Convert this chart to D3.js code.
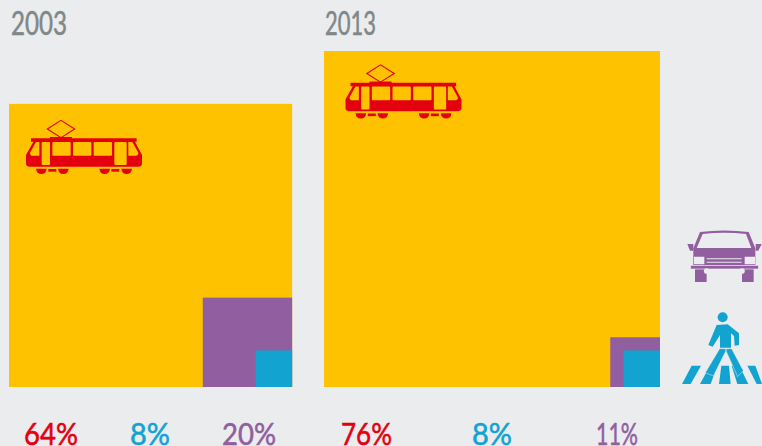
<!DOCTYPE html>
<html>
<head>
<meta charset="utf-8">
<script src="https://cdn.jsdelivr.net/npm/d3@7/dist/d3.min.js"></script>
<style>
html,body{margin:0;padding:0;background:#ebecee;overflow:hidden}
svg{display:block}
text{font-family:Lato,sans-serif}
</style>
</head>
<body>
<svg id="chart" width="762" height="446"></svg>
<script>
// Modal split per year, in percent
const years = ["2003", "2013"];
const tram = [64, 76];
const pedestrian = [8, 8];
const car = [20, 11];

const colors = {tram: "#ffc200", car: "#915e9f", pedestrian: "#12a3d1"};
const textColors = {tram: "#e3000f", pedestrian: "#12a3d1", car: "#915e9f", year: "#7f8888"};
const background = "#ebecee";

const svg = d3.select("#chart");
const baseline = 387;
const panelLeft = d3.scaleOrdinal().domain(years).range([9, 324]);
// Square side grows linearly with the share
const side = d3.scaleLinear().domain([0, 76]).range([1.3, 336]);

// Condensed label: the installed face is fitted to a set width
function label(x, y, txt, size, fill, width) {
  svg.append("text")
    .attr("x", x).attr("y", y)
    .attr("text-anchor", "middle")
    .attr("font-size", size)
    .attr("fill", fill)
    .attr("stroke", fill)
    .attr("stroke-width", 0.55)
    .attr("textLength", width)
    .attr("lengthAdjust", "spacingAndGlyphs")
    .text(txt);
}

const yearLayout = {"2003": [39, 56], "2013": [350.5, 51]};
const shareLayout = {
  "2003": [[51, 54], [150, 40], [249, 54]],
  "2013": [[366.5, 51], [492, 40], [617, 42]]
};

years.forEach((year, i) => {
  const left = panelLeft(year);
  const right = left + side(tram[i]);
  const g = svg.append("g").attr("class", "panel");
  [["tram", tram[i]], ["car", car[i]], ["pedestrian", pedestrian[i]]].forEach(([k, v]) => {
    const s = side(v);
    g.append("rect")
      .attr("x", right - s).attr("y", baseline - s)
      .attr("width", s).attr("height", s)
      .attr("fill", colors[k]);
  });
  label(yearLayout[year][0], 35, year, 32, textColors.year, yearLayout[year][1]);
  const pos = shareLayout[year];
  label(pos[0][0], 445, tram[i] + "%", 31, textColors.tram, pos[0][1]);
  label(pos[1][0], 445, pedestrian[i] + "%", 31, textColors.pedestrian, pos[1][1]);
  label(pos[2][0], 445, car[i] + "%", 31, textColors.car, pos[2][1]);
});

// Tram pictogram, authored at three times its drawn size
function drawTram(tx, ty) {
  const red = textColors.tram, hole = colors.tram;
  const g = svg.append("g").attr("transform", `translate(${tx},${ty}) scale(${1/3})`);
  g.append("path").attr("d", "M142 117L183 91L224 117L183 143Z")
    .attr("fill", "none").attr("stroke", red).attr("stroke-width", 3.5);
  g.append("path").attr("fill", red)
    .attr("d", "M93 145H150V141H216V145H410V155H405L426 195V220Q426 230 416 230H88Q78 230 78 220V195L100 155H93Z");
  g.append("path").attr("fill", hole)
    .attr("d", [
      "M108 156H118V197H97Q90 197 90 188Z",
      "M125 159Q125 156 128 156H147Q150 156 150 159V222Q150 225 147 225H128Q125 225 125 222Z",
      "M157 159Q157 156 160 156H209Q212 156 212 159V194Q212 197 209 197H160Q157 197 157 194Z",
      "M219 159Q219 156 222 156H271Q274 156 274 159V194Q274 197 271 197H222Q219 197 219 194Z",
      "M281 159Q281 156 284 156H333Q336 156 336 159V194Q336 197 333 197H284Q281 197 281 194Z",
      "M343 159Q343 156 346 156H377Q380 156 380 159V222Q380 225 377 225H346Q343 225 343 222Z",
      "M385 156H397L415 188Q415 197 408 197H385Z"
    ].join(""));
  const wheels = [108, 174, 298, 364];
  g.selectAll(".wheel").data(wheels).join("path").attr("fill", red)
    .attr("d", d => `M${d} 236H${d + 32}Q${d + 30} 252 ${d + 16} 252Q${d + 2} 252 ${d} 236Z`);
  g.selectAll(".link").data([145, 334]).join("rect").attr("fill", red)
    .attr("x", d => d).attr("y", 237).attr("width", 24).attr("height", 8);
}
drawTram(0, 90);
drawTram(319.5, 34.5);

// Car pictogram
(function () {
  const fill = colors.car;
  const g = svg.append("g").attr("transform", `translate(660,220) scale(${1/3})`);
  g.append("path").attr("fill", fill)
    .attr("d", "M120 36Q192 27 266 36L286 85V136H100V85Z");
  g.append("path").attr("fill", fill)
    .attr("d", "M82 72H100V92L90 92ZM287 72H305L295 92L287 92Z");
  g.append("path").attr("fill", background)
    .attr("d", "M128 42Q192 35 258 42L274 84H110Z");
  g.append("path").attr("fill", background)
    .attr("d", "M102 110H133V133H102ZM254 110H285V133H254ZM140 115H245V118H140ZM140 125H245V128H140Z");
  g.append("rect").attr("x", 105).attr("y", 146).attr("width", 35).attr("height", 40).attr("fill", fill);
  g.append("rect").attr("x", 246).attr("y", 146).attr("width", 35).attr("height", 40).attr("fill", fill);
  g.append("rect").attr("x", 92).attr("y", 136).attr("width", 203).attr("height", 11)
    .attr("fill", fill).attr("stroke", background).attr("stroke-width", 2);
  g.selectAll("circle").data([140, 246]).join("circle")
    .attr("cx", d => d).attr("cy", 153).attr("r", 8.5)
    .attr("fill", background);
})();

// Pedestrian on a zebra crossing
(function () {
  const fill = colors.pedestrian;
  const g = svg.append("g").attr("transform", `translate(660,300) scale(${1/3})`);
  g.append("path").attr("fill", fill)
    .attr("d", "M95 197H123L92 252H66ZM150 197H172L152 252H120ZM184 197H207L212 252H177ZM215 197H238L265 252H232ZM262 197H286L306 252H290Z");
  g.append("circle").attr("cx", 188).attr("cy", 52).attr("r", 15).attr("fill", fill);
  g.append("path").attr("fill", fill)
    .attr("d", "M170 75L203 73L237 100V135L224 137L222 108L213 100V143H180V105L158 140L145 135Z");
  g.append("path").attr("fill", fill).attr("stroke", background).attr("stroke-width", 1.5)
    .attr("d", "M179 146H201L160 228L136 218ZM195 146H215L250 212L233 230Z");
})();
</script>
</body>
</html>
